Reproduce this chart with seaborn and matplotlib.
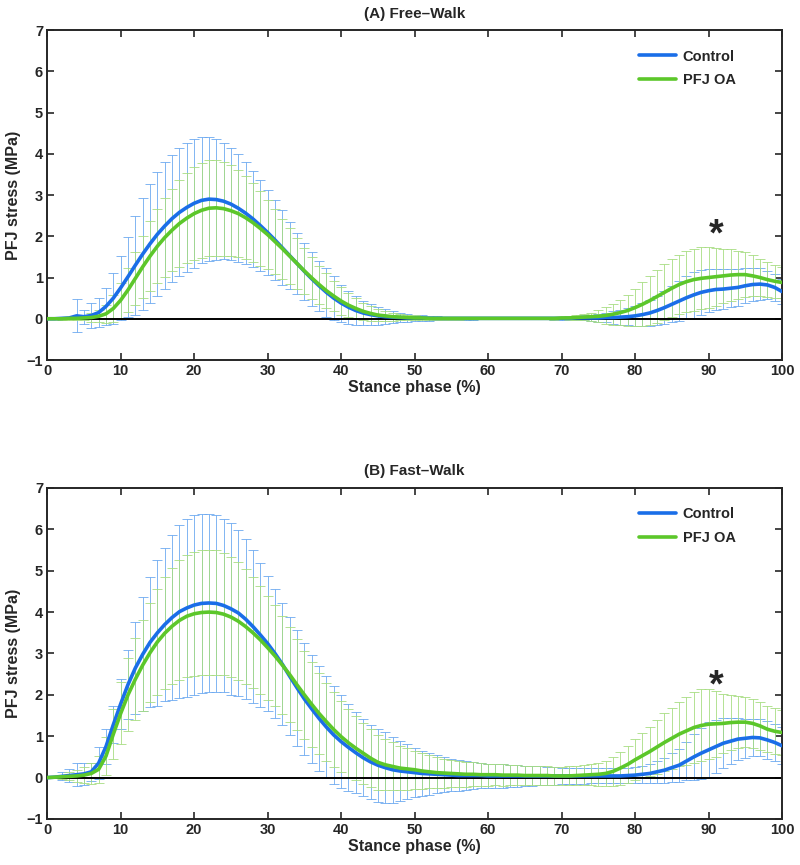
import numpy as np
import pandas as pd
import matplotlib
matplotlib.use("Agg")
import matplotlib.pyplot as plt
import seaborn as sns

# ── data: PFJ stress (MPa) at each 1% of stance, mean and SD ────────────────
phase = list(range(101))

ctrl_free_mean = [
    0.00, 0.00, 0.01, 0.02, 0.07, 0.05, 0.08, 0.15, 0.30, 0.50,
    0.75, 1.02, 1.30, 1.57, 1.82, 2.05, 2.25, 2.43, 2.58, 2.70,
    2.80, 2.87, 2.90, 2.89, 2.85, 2.78, 2.68, 2.56, 2.42, 2.26,
    2.09, 1.91, 1.72, 1.53, 1.34, 1.15, 0.97, 0.80, 0.64, 0.50,
    0.38, 0.28, 0.20, 0.14, 0.10, 0.07, 0.05, 0.04, 0.03, 0.02,
    0.02, 0.02, 0.01, 0.01, 0.01, 0.01, 0.01, 0.01, 0.01, 0.01,
    0.01, 0.01, 0.01, 0.01, 0.01, 0.01, 0.01, 0.01, 0.01, 0.01,
    0.01, 0.01, 0.02, 0.02, 0.02, 0.02, 0.03, 0.03, 0.04, 0.05,
    0.07, 0.10, 0.14, 0.20, 0.27, 0.35, 0.43, 0.51, 0.58, 0.64,
    0.68, 0.71, 0.72, 0.74, 0.76, 0.80, 0.83, 0.84, 0.82, 0.76, 0.66]
ctrl_free_sd = [
    0.00, 0.00, 0.01, 0.03, 0.40, 0.17, 0.30, 0.35, 0.44, 0.62,
    0.78, 0.97, 1.20, 1.35, 1.44, 1.50, 1.54, 1.55, 1.55, 1.57,
    1.56, 1.53, 1.50, 1.46, 1.40, 1.35, 1.31, 1.23, 1.17, 1.10,
    1.03, 0.97, 0.91, 0.82, 0.74, 0.69, 0.66, 0.61, 0.59, 0.53,
    0.45, 0.40, 0.35, 0.30, 0.26, 0.22, 0.18, 0.15, 0.12, 0.10,
    0.08, 0.07, 0.06, 0.05, 0.04, 0.04, 0.03, 0.03, 0.03, 0.02,
    0.02, 0.02, 0.02, 0.02, 0.02, 0.02, 0.02, 0.02, 0.02, 0.03,
    0.03, 0.04, 0.05, 0.06, 0.08, 0.10, 0.12, 0.15, 0.18, 0.21,
    0.24, 0.28, 0.32, 0.36, 0.40, 0.44, 0.48, 0.52, 0.55, 0.54,
    0.52, 0.50, 0.48, 0.46, 0.44, 0.42, 0.40, 0.38, 0.35, 0.32, 0.30]
oa_free_mean = [
    0.00, 0.00, 0.00, 0.01, 0.01, 0.02, 0.03, 0.06, 0.12, 0.25,
    0.45, 0.70, 0.98, 1.26, 1.52, 1.76, 1.97, 2.15, 2.31, 2.44,
    2.55, 2.63, 2.68, 2.69, 2.67, 2.62, 2.55, 2.45, 2.33, 2.19,
    2.04, 1.87, 1.70, 1.52, 1.34, 1.16, 0.99, 0.83, 0.68, 0.55,
    0.43, 0.33, 0.25, 0.18, 0.13, 0.09, 0.07, 0.05, 0.04, 0.03,
    0.02, 0.02, 0.01, 0.01, 0.01, 0.01, 0.01, 0.01, 0.01, 0.01,
    0.01, 0.01, 0.01, 0.01, 0.01, 0.01, 0.01, 0.01, 0.01, 0.01,
    0.02, 0.02, 0.03, 0.04, 0.05, 0.06, 0.08, 0.11, 0.15, 0.20,
    0.27, 0.35, 0.44, 0.54, 0.64, 0.74, 0.83, 0.90, 0.95, 0.98,
    1.00, 1.02, 1.04, 1.06, 1.07, 1.07, 1.04, 1.00, 0.95, 0.91, 0.88]
oa_free_sd = [
    0.01, 0.01, 0.02, 0.03, 0.04, 0.06, 0.10, 0.15, 0.22, 0.32,
    0.42, 0.53, 0.64, 0.75, 0.84, 0.90, 0.95, 1.00, 1.05, 1.09,
    1.12, 1.15, 1.17, 1.17, 1.14, 1.10, 1.05, 1.00, 0.95, 0.90,
    0.84, 0.78, 0.73, 0.67, 0.61, 0.56, 0.51, 0.46, 0.42, 0.37,
    0.33, 0.29, 0.25, 0.21, 0.18, 0.15, 0.12, 0.10, 0.08, 0.07,
    0.06, 0.05, 0.04, 0.04, 0.03, 0.03, 0.03, 0.02, 0.02, 0.02,
    0.02, 0.02, 0.02, 0.02, 0.02, 0.02, 0.02, 0.02, 0.02, 0.03,
    0.03, 0.05, 0.06, 0.08, 0.10, 0.15, 0.20, 0.25, 0.30, 0.37,
    0.45, 0.53, 0.60, 0.64, 0.68, 0.70, 0.72, 0.74, 0.75, 0.75,
    0.73, 0.70, 0.66, 0.62, 0.58, 0.54, 0.50, 0.46, 0.43, 0.40, 0.38]

ctrl_fast_mean = [
    0.00, 0.01, 0.03, 0.05, 0.07, 0.09, 0.14, 0.35, 0.75, 1.28,
    1.78, 2.25, 2.65, 2.98, 3.27, 3.50, 3.70, 3.87, 4.01, 4.10,
    4.17, 4.21, 4.22, 4.21, 4.16, 4.08, 3.98, 3.83, 3.65, 3.45,
    3.24, 3.00, 2.74, 2.45, 2.17, 1.90, 1.66, 1.43, 1.22, 1.03,
    0.87, 0.73, 0.60, 0.48, 0.38, 0.30, 0.24, 0.19, 0.16, 0.14,
    0.12, 0.10, 0.09, 0.08, 0.07, 0.06, 0.05, 0.05, 0.05, 0.05,
    0.04, 0.04, 0.04, 0.04, 0.04, 0.04, 0.04, 0.04, 0.04, 0.04,
    0.04, 0.04, 0.04, 0.04, 0.04, 0.04, 0.04, 0.04, 0.04, 0.05,
    0.06, 0.08, 0.10, 0.14, 0.18, 0.24, 0.30, 0.40, 0.50, 0.59,
    0.67, 0.75, 0.83, 0.88, 0.93, 0.95, 0.97, 0.96, 0.91, 0.85, 0.77]
ctrl_fast_sd = [
    0.00, 0.02, 0.10, 0.15, 0.28, 0.26, 0.22, 0.38, 0.42, 0.45,
    0.61, 0.83, 1.12, 1.38, 1.57, 1.76, 1.86, 1.99, 2.09, 2.15,
    2.17, 2.17, 2.16, 2.13, 2.10, 2.08, 2.00, 1.93, 1.85, 1.74,
    1.63, 1.55, 1.47, 1.42, 1.40, 1.36, 1.31, 1.27, 1.24, 1.18,
    1.13, 1.05, 0.98, 0.93, 0.90, 0.88, 0.85, 0.80, 0.72, 0.66,
    0.60, 0.55, 0.50, 0.46, 0.42, 0.39, 0.37, 0.35, 0.33, 0.31,
    0.30, 0.29, 0.28, 0.27, 0.26, 0.25, 0.24, 0.23, 0.22, 0.21,
    0.20, 0.20, 0.19, 0.19, 0.18, 0.18, 0.18, 0.18, 0.18, 0.18,
    0.19, 0.20, 0.22, 0.26, 0.30, 0.35, 0.40, 0.47, 0.55, 0.62,
    0.68, 0.65, 0.60, 0.55, 0.50, 0.47, 0.45, 0.45, 0.45, 0.45, 0.45]
oa_fast_mean = [
    0.00, 0.01, 0.02, 0.03, 0.04, 0.06, 0.10, 0.20, 0.52, 1.05,
    1.55, 2.00, 2.38, 2.72, 3.02, 3.28, 3.49, 3.66, 3.80, 3.90,
    3.96, 3.99, 4.00, 3.99, 3.95, 3.88, 3.78, 3.65, 3.50, 3.33,
    3.14, 2.94, 2.72, 2.49, 2.24, 2.00, 1.77, 1.55, 1.35, 1.16,
    0.99, 0.84, 0.71, 0.59, 0.47, 0.37, 0.31, 0.27, 0.23, 0.21,
    0.19, 0.16, 0.14, 0.12, 0.11, 0.10, 0.09, 0.08, 0.08, 0.07,
    0.07, 0.07, 0.06, 0.06, 0.06, 0.05, 0.05, 0.05, 0.05, 0.04,
    0.04, 0.04, 0.05, 0.06, 0.07, 0.08, 0.10, 0.15, 0.23, 0.32,
    0.43, 0.53, 0.63, 0.74, 0.85, 0.95, 1.05, 1.13, 1.21, 1.26,
    1.29, 1.30, 1.31, 1.33, 1.34, 1.34, 1.31, 1.25, 1.17, 1.12, 1.09]
oa_fast_sd = [
    0.01, 0.02, 0.05, 0.10, 0.15, 0.20, 0.25, 0.33, 0.45, 0.60,
    0.75, 0.88, 1.00, 1.10, 1.20, 1.28, 1.35, 1.40, 1.45, 1.48,
    1.50, 1.51, 1.51, 1.50, 1.48, 1.45, 1.42, 1.38, 1.34, 1.30,
    1.26, 1.22, 1.18, 1.14, 1.10, 1.06, 1.02, 0.98, 0.94, 0.90,
    0.86, 0.82, 0.78, 0.74, 0.70, 0.66, 0.62, 0.58, 0.54, 0.50,
    0.46, 0.43, 0.40, 0.37, 0.35, 0.33, 0.31, 0.30, 0.29, 0.28,
    0.27, 0.26, 0.26, 0.25, 0.25, 0.24, 0.24, 0.23, 0.23, 0.22,
    0.22, 0.23, 0.24, 0.25, 0.26, 0.28, 0.30, 0.35, 0.40, 0.45,
    0.50, 0.55, 0.60, 0.65, 0.70, 0.74, 0.78, 0.82, 0.85, 0.87,
    0.85, 0.80, 0.72, 0.66, 0.63, 0.61, 0.60, 0.58, 0.56, 0.55, 0.55]

groups = ["Control", "PFJ OA"]
panel_titles = ["(A) Free\u2013Walk", "(B) Fast\u2013Walk"]
star_pos = [(91, 2.02), (91, 2.2)]

COLORS = {"Control": "#1a6ee8", "PFJ OA": "#5cc72a"}
BAR_COLORS = {"Control": "#6aa8f0", "PFJ OA": "#a6dd80"}

sns.set_style("ticks")
plt.rcParams["font.family"] = ["Liberation Sans", "DejaVu Sans"]
plt.rcParams["font.weight"] = "bold"
plt.rcParams["axes.unicode_minus"] = True


def _long_df(ctrl_mean, ctrl_sd, oa_mean, oa_sd):
    parts = []
    for g, m, s in [("Control", ctrl_mean, ctrl_sd), ("PFJ OA", oa_mean, oa_sd)]:
        parts.append(pd.DataFrame({"phase": phase, "stress": m, "sd": s, "group": g}))
    return pd.concat(parts, ignore_index=True)


def _panel(ax, df, title, star):
    # error bars first so the mean curves sit on top
    for g in groups:
        d = df[df["group"] == g]
        ax.errorbar(d["phase"], d["stress"], yerr=d["sd"], fmt="none",
                    ecolor=BAR_COLORS[g], elinewidth=0.7, capsize=3.4,
                    capthick=0.7, alpha=0.85, zorder=1)
    ax.axhline(0, color="black", lw=1.4, zorder=2)
    sns.lineplot(data=df, x="phase", y="stress", hue="group", hue_order=groups,
                 palette=COLORS, lw=2.6, ax=ax, zorder=3)
    ax.text(star[0], star[1], "*", fontsize=27, fontweight="bold",
            ha="center", va="center")

    ax.set_xlim(0, 100); ax.set_ylim(-1, 7)
    ax.set_xticks(range(0, 101, 10)); ax.set_yticks(range(-1, 8))
    ax.tick_params(direction="in", top=True, right=True, length=5,
                   width=1.2, labelsize=10.5, pad=3)
    for sp in ax.spines.values():
        sp.set_linewidth(1.4)
        sp.set_visible(True)
    ax.set_title(title, fontsize=11, fontweight="bold", pad=9)
    ax.set_xlabel("Stance phase (%)", fontsize=11.5, fontweight="bold", labelpad=1)
    ax.set_ylabel("PFJ stress (MPa)", fontsize=11.5, fontweight="bold", labelpad=4)
    leg = ax.legend(loc="upper right", frameon=False, fontsize=10.5,
                    handlelength=2.5, handletextpad=0.5, borderaxespad=0.6,
                    bbox_to_anchor=(0.957, 0.985), labelspacing=0.65)
    for line in leg.get_lines():
        line.set_linewidth(2.6)


fig = plt.figure(figsize=(8, 8.65), dpi=100)
ax_a = fig.add_axes([0.059, 0.5838, 0.9185, 0.3815])
ax_b = fig.add_axes([0.059, 0.0532, 0.9185, 0.3827])

_panel(ax_a, _long_df(ctrl_free_mean, ctrl_free_sd, oa_free_mean, oa_free_sd),
       panel_titles[0], star_pos[0])
_panel(ax_b, _long_df(ctrl_fast_mean, ctrl_fast_sd, oa_fast_mean, oa_fast_sd),
       panel_titles[1], star_pos[1])

fig.savefig("out.png", dpi=100)
plt.close(fig)
